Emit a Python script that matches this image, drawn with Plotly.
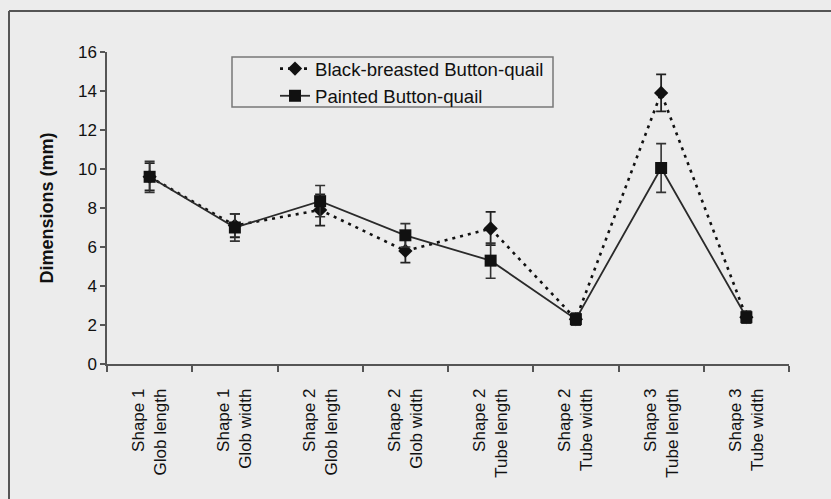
import plotly.graph_objects as go

categories = [
    "Shape 1<br>Glob length", "Shape 1<br>Glob width",
    "Shape 2<br>Glob length", "Shape 2<br>Glob width",
    "Shape 2<br>Tube length", "Shape 2<br>Tube width",
    "Shape 3<br>Tube length", "Shape 3<br>Tube width",
]
black_breasted = [9.6, 7.1, 7.9, 5.8, 6.95, 2.3, 13.9, 2.4]
black_breasted_err = [0.7, 0.6, 0.8, 0.6, 0.85, 0.3, 0.95, 0.3]
painted = [9.6, 7.0, 8.35, 6.6, 5.3, 2.3, 10.05, 2.4]
painted_err = [0.8, 0.7, 0.8, 0.6, 0.9, 0.3, 1.25, 0.3]
y_ticks = [0, 2, 4, 6, 8, 10, 12, 14, 16]

BG = "#ececec"
FONT = "Liberation Sans, Arial, sans-serif"

fig = go.Figure()
fig.add_trace(go.Scatter(
    x=categories, y=black_breasted, name="Black-breasted Button-quail",
    mode="lines+markers",
    line=dict(color="#111111", width=2.6, dash="3px,5px"),
    marker=dict(symbol="diamond", size=11, color="#111111"),
    error_y=dict(type="data", array=black_breasted_err, visible=True,
                 color="#222222", thickness=1.8, width=5),
))
fig.add_trace(go.Scatter(
    x=categories, y=painted, name="Painted Button-quail",
    mode="lines+markers",
    line=dict(color="#2a2a2a", width=1.8),
    marker=dict(symbol="square", size=12, color="#111111"),
    error_y=dict(type="data", array=painted_err, visible=True,
                 color="#333333", thickness=1.6, width=5),
))

W, H = 831, 499
L, R, T, B = 107, W - 789, 52, H - 364
pw, ph = W - L - R, H - T - B

def px(x):
    return (x - L) / pw

def py(y):
    return (H - B - y) / ph

fig.update_layout(
    width=W, height=H,
    margin=dict(l=L, r=R, t=T, b=B, autoexpand=False),
    paper_bgcolor=BG, plot_bgcolor=BG,
    font=dict(family=FONT, size=16, color="#111111"),
    showlegend=True,
    legend=dict(
        x=px(275), y=py(50), xanchor="left", yanchor="top",
        bgcolor="rgba(0,0,0,0)", borderwidth=0,
        font=dict(size=18.6, family=FONT),
    ),
    xaxis=dict(
        type="category", range=[-0.5, 7.5],
        showline=True, linecolor="#555555", linewidth=1.5,
        ticks="outside", ticklen=6, tickcolor="#555555", tickwidth=1.5,
        tickson="boundaries", tickangle=-90, ticklabelstandoff=16,
        showgrid=False, zeroline=False,
        tickfont=dict(size=17, family=FONT),
    ),
    yaxis=dict(
        range=[0, 16], tickvals=y_ticks,
        showline=True, linecolor="#555555", linewidth=1.5,
        ticks="outside", ticklen=5, tickcolor="#555555", tickwidth=1.5,
        showgrid=False, zeroline=False,
        tickfont=dict(size=17, family=FONT),
        title=dict(text="<b>Dimensions (mm)</b>", standoff=20,
                   font=dict(size=18, family=FONT)),
    ),
    shapes=[
        dict(type="rect", xref="paper", yref="paper",
             x0=px(232), x1=px(553), y0=py(57), y1=py(107),
             line=dict(color="#777777", width=1.5), fillcolor=BG, layer="below"),
        dict(type="line", xref="paper", yref="paper",
             x0=px(9), x1=px(835), y0=py(11), y1=py(11),
             line=dict(color="#555555", width=2)),
        dict(type="line", xref="paper", yref="paper",
             x0=px(9), x1=px(9), y0=py(11), y1=py(505),
             line=dict(color="#555555", width=2)),
    ],
)

fig.write_html(
    "out.html",
    config={"displayModeBar": False},
    post_script="document.body.style.margin='0';document.body.style.background='%s';" % BG,
)
